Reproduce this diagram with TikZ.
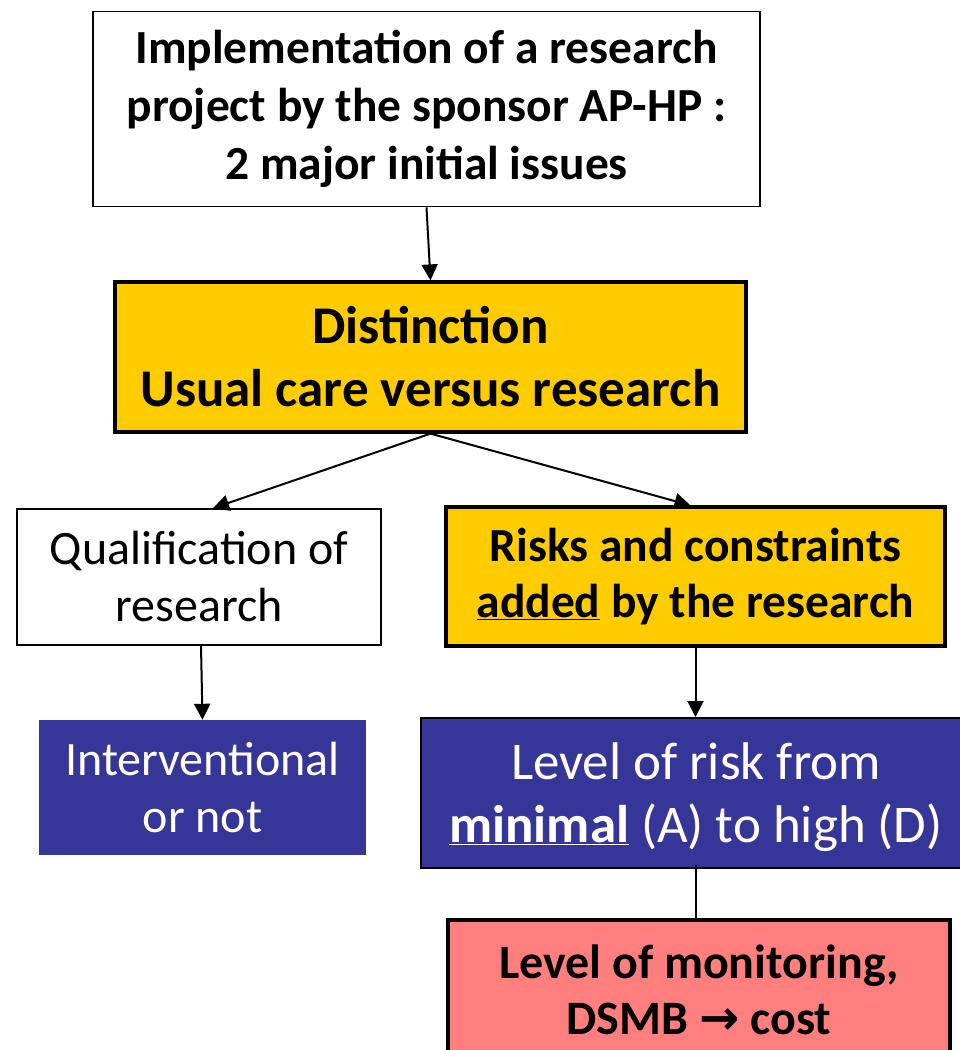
\documentclass[tikz,border=0pt]{standalone}
\usepackage{fontspec}
\setmainfont{Carlito}
\newfontfamily\arrowfont{DejaVu Sans}
\usetikzlibrary{arrows.meta}
\definecolor{boxyellow}{HTML}{FFCC00}
\definecolor{boxblue}{HTML}{363699}
\definecolor{boxpink}{HTML}{FF7F7F}
\tikzset{
  box/.style={rectangle, align=center, inner sep=0pt},
  thinbox/.style={box, draw=black, line width=1.6pt, fill=white},
  yellowbox/.style={box, draw=black, line width=3.2pt, fill=boxyellow},
  bluebox/.style={box, fill=boxblue, text=white},
  pinkbox/.style={box, draw=black, line width=3.2pt, fill=boxpink},
  conn/.style={line width=2pt, -{Triangle[length=16pt,width=16pt]}},
  plainconn/.style={line width=2pt},
}
\begin{document}
\begin{tikzpicture}[x=1pt,y=-1pt]
\useasboundingbox (0,0) rectangle (960,1050);
\clip (0,0) rectangle (960,1050);
\node[thinbox, minimum width=667pt, minimum height=195pt,
  font={\fontsize{47.5}{58}\selectfont\bfseries}] (top) at (426.5,109)
  {Implementation of a research\\ project by the sponsor AP-HP :\\ 2 major initial issues};
\node[yellowbox, minimum width=631pt, minimum height=150pt,
  font={\fontsize{53}{63}\selectfont\bfseries}] (dist) at (430.5,357)
  {Distinction\\ Usual care versus research};
\node[thinbox, minimum width=364pt, minimum height=136pt,
  font={\fontsize{48}{57}\selectfont}] (qual) at (199,577)
  {Qualification of\\ research};
\node[yellowbox, minimum width=499pt, minimum height=139pt,
  font={\fontsize{47.5}{56}\selectfont\bfseries}] (risks) at (695.5,576.5)
  {Risks and constraints\\ \underline{added} by the research};
\node[bluebox, minimum width=327pt, minimum height=135pt,
  font={\fontsize{48}{58}\selectfont}] (interv) at (202.5,787.5)
  {Interventional\\ or not};
\node[bluebox, draw=black, line width=2pt, minimum width=550pt, minimum height=150pt,
  font={\fontsize{53}{63}\selectfont}, text depth=0pt] (level) at (696,793)
  {Level of risk from\\ \textbf{\underline{minimal}} (A) to high (D)};
\node[pinkbox, minimum width=502pt, minimum height=140pt,
  font={\fontsize{48}{56}\selectfont\bfseries}] (mon) at (699,990)
  {Level of monitoring,\\ DSMB {\arrowfont\bfseries →} cost};
\draw[conn] (top.south) -- (dist.north);
\draw[conn] (dist.south) -- ([xshift=14pt]qual.north);
\draw[conn] (dist.south) -- ([xshift=-5pt]risks.north);
\draw[conn] ([xshift=2pt]qual.south) -- (interv.north);
\draw[conn] (risks.south) -- (risks.south |- level.north);
\draw[plainconn] ([yshift=4pt]level.south) -- (level.south |- mon.north);
\end{tikzpicture}
\end{document}
